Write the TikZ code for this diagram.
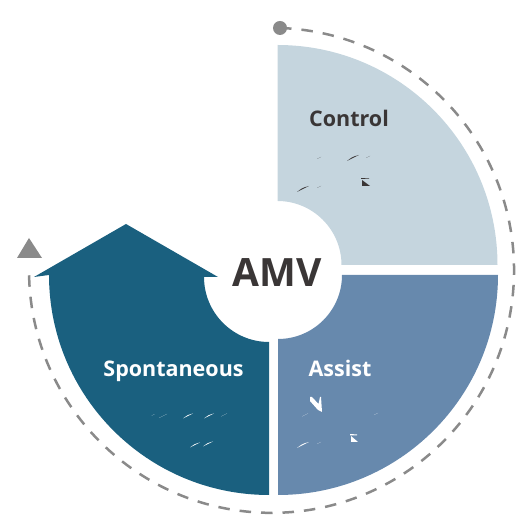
\documentclass[tikz,border=0pt]{standalone}
\usepackage{fontspec}
\setmainfont{Open Sans}
\definecolor{ctrlc}{HTML}{C5D5DE}
\definecolor{assc}{HTML}{6789AD}
\definecolor{sponc}{HTML}{1A607F}
\definecolor{greyc}{HTML}{8A8A8A}
\definecolor{inkc}{HTML}{3A3636}
\tikzset{
  seglabel/.style={font=\fontsize{21.5}{26}\selectfont\bfseries,inner sep=0pt,anchor=base},
  ringline/.style={greyc,line width=2.5pt,dash pattern=on 11.5pt off 10pt},
}
% px coordinates: x, 518-y
\newcommand{\slv}[4]{\fill[#1] ({#2-#4},{518-#3-#4*0.5}) .. controls ({#2-#4*0.1},{518-#3-#4*0.05}) .. ({#2+#4},{518-#3+#4*0.5}) .. controls ({#2-#4*0.1},{518-#3+#4*0.2}) .. cycle;}
\begin{document}
\begin{tikzpicture}[x=1pt,y=1pt]
\useasboundingbox (0,0) rectangle (525,518);
% segments
\fill[ctrlc] (277.5,317) -- (277.5,473) arc[start angle=90,end angle=0,radius=220] -- (341.5,253) arc[start angle=0,end angle=90,radius=64] -- cycle;
\fill[assc] (342,243) -- (498,243) arc[start angle=0,end angle=-90,radius=220] -- (278,179) arc[start angle=-90,end angle=0,radius=64] -- cycle;
\fill[sponc] (269,23) arc[start angle=270,end angle=180,radius=220] -- (34,241) -- (126,294) -- (218,241) -- (204,241) arc[start angle=180,end angle=270,radius=65] -- cycle;
% ring
\node[circle,fill=greyc,minimum size=14pt,inner sep=0pt] (start) at (280,490) {};
\draw[ringline] (start.center) arc[start angle=88,end angle=-180,radius=242.5];
\fill[greyc] (29,280) -- (42,260) -- (17,260) -- cycle;
% labels
\node[seglabel,text=inkc] (control) at (349,391.5) {Control};
\node[seglabel,text=white] (assist) at (340,141.5) {Assist};
\node[seglabel,text=white] (spont) at (173.5,141.5) {Spontaneous};
\node[font=\fontsize{39}{46}\selectfont\bfseries,text=inkc,inner sep=0pt] (amv) at (277,245) {AMV};
% glyph slivers: control
\slv{inkc}{319}{158}{2}
\slv{inkc}{353}{158}{6}
\slv{inkc}{368}{157}{2}
\slv{inkc}{303}{189}{6}
\slv{inkc}{319}{187}{2}
\fill[inkc] (361,518-178) -- (369,518-178.5) -- (369,518-179) -- (361,518-179) -- cycle;
\fill[inkc] (362,518-180) -- (370,518-186) -- (362,518-186) -- cycle;
% assist
\slv{white}{305}{415}{3}
\slv{white}{376}{414}{2}
\slv{white}{303}{445}{6}
\slv{white}{319}{443}{2}
\fill[white] (310,518-397) -- (312,518-397) -- (318.5,518-404) -- (320,518-397) -- (321,518-397) -- (322,518-412) -- (318,518-410) -- (310,518-401) -- cycle;
\fill[white] (350,518-434) -- (357,518-434.5) -- (357,518-435.5) -- (350,518-435.5) -- cycle;
\fill[white] (351,518-436) -- (358,518-442) -- (351,518-442) -- cycle;
% spontaneous
\slv{white}{153}{415}{1.5}
\slv{white}{163}{416}{4}
\slv{white}{188}{416}{5}
\slv{white}{209}{416}{5}
\slv{white}{224}{415}{3}
\slv{white}{195}{445}{5}
\slv{white}{208}{444}{5}
\end{tikzpicture}
\end{document}
